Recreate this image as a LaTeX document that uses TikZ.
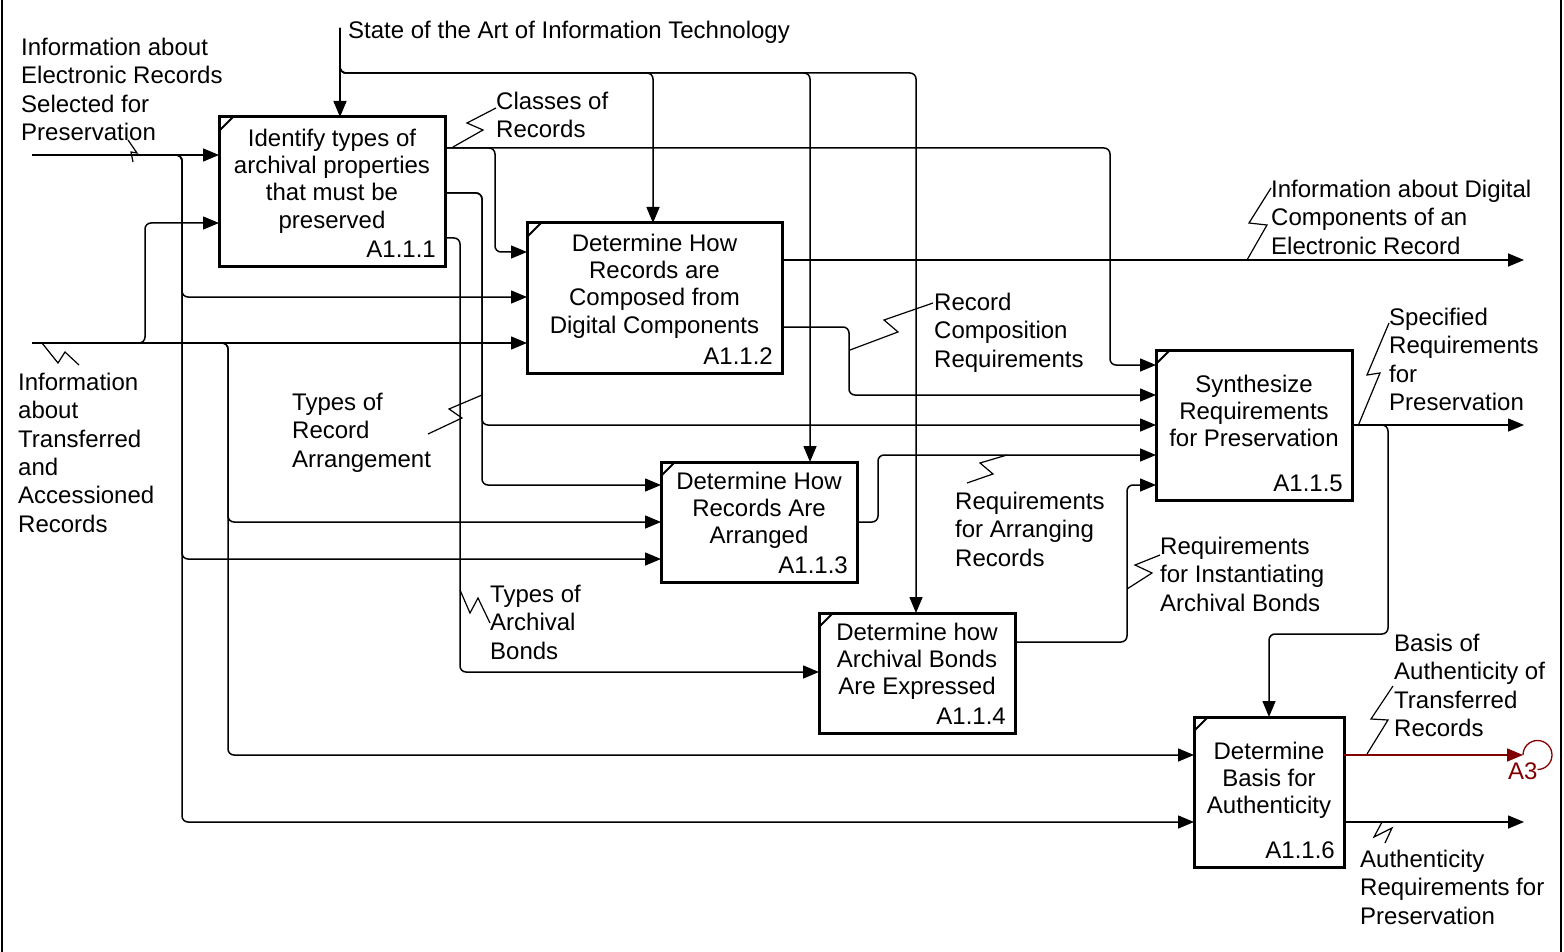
\documentclass[tikz,border=0pt]{standalone}
\usepackage{fontspec}
\setmainfont{Liberation Sans}
\usetikzlibrary{arrows.meta}
\definecolor{refred}{RGB}{128,0,0}
\begin{document}
\begin{tikzpicture}[x=1pt,y=-1pt,
  conn/.style={line width=1.5pt, rounded corners=6pt, -{Triangle[length=16pt,width=13pt]}},
  squig/.style={line width=1.2pt, line join=miter},
  box/.style={draw, line width=3pt, inner sep=0pt, outer sep=0pt},
  tick/.style={line width=2pt},
  title/.style={font=\fontsize{24}{27.2}\selectfont, align=center, inner sep=0pt, anchor=north},
  boxid/.style={font=\fontsize{24}{27.2}\selectfont, inner sep=0pt, anchor=base east},
  lbl/.style={font=\fontsize{24}{28.3}\selectfont, align=left, inner sep=0pt, anchor=north west},
]
\useasboundingbox (0,0) rectangle (1564,952);

% frame sides
\draw[line width=2pt] (2,0) -- (2,952);
\draw[line width=2pt] (1561,0) -- (1561,952);

% activity boxes
\node[box, minimum width=226pt, minimum height=150pt] (b1) at (332,192) {};
\node[box, minimum width=255pt, minimum height=150pt] (b2) at (654.5,298) {};
\node[box, minimum width=196pt, minimum height=120pt] (b3) at (759,522) {};
\node[box, minimum width=196pt, minimum height=120pt] (b4) at (917,673) {};
\node[box, minimum width=196pt, minimum height=150pt] (b5) at (1254,425) {};
\node[box, minimum width=150pt, minimum height=150pt] (b6) at (1269,792) {};

\foreach \b in {b1,b2,b3,b4,b5,b6}
  \draw[tick] ([yshift=-14pt]\b.north west) -- ([xshift=14pt]\b.north west);

\node[title] (t1) at ([yshift=-12pt]b1.north) {Identify types of\\archival properties\\that must be\\preserved};
\node[title] (t2) at ([yshift=-11pt]b2.north) {Determine How\\Records are\\Composed from\\Digital Components};
\node[title] (t3) at ([yshift=-10pt]b3.north) {Determine How\\Records Are\\Arranged};
\node[title] (t4) at ([yshift=-10pt]b4.north) {Determine how\\Archival Bonds\\Are Expressed};
\node[title] (t5) at ([yshift=-25pt]b5.north) {Synthesize\\Requirements\\for Preservation};
\node[title] (t6) at ([yshift=-25pt]b6.north) {Determine\\Basis for\\Authenticity};

\node[boxid] (n1) at ([xshift=-9pt,yshift=9pt]b1.south east) {A1.1.1};
\node[boxid] (n2) at ([xshift=-9pt,yshift=9pt]b2.south east) {A1.1.2};
\node[boxid] (n3) at ([xshift=-9pt,yshift=9pt]b3.south east) {A1.1.3};
\node[boxid] (n4) at ([xshift=-9pt,yshift=9pt]b4.south east) {A1.1.4};
\node[boxid] (n5) at ([xshift=-9pt,yshift=9pt]b5.south east) {A1.1.5};
\node[boxid] (n6) at ([xshift=-9pt,yshift=9pt]b6.south east) {A1.1.6};

% free ends
\coordinate (sota) at (340,28);
\coordinate (in1) at (32,155);
\coordinate (in2) at (32,343);
\coordinate (out1) at (1524,260);
\coordinate (out2) at (1524,425);
\coordinate (out3) at (1524,822);
\coordinate (a3) at (1523,755);

% control
\draw[conn] (sota) -- (b1.north -| sota);
\draw[conn] (sota) |- (653,73) -- (b2.north -| 653,0);
\draw[conn] (sota) |- (810,73) -- (b3.north -| 810,0);
\draw[conn] (sota) |- (916,73) -- (b4.north -| 916,0);

% inputs
\draw[conn] (in1) -- (b1.west |- in1);
\draw[conn] (in1) -| (182,297) -- (b2.west |- 0,297);
\draw[conn] (in1) -| (182,559) -- (b3.west |- 0,559);
\draw[conn] (in1) -| (182,822) -- (b6.west |- 0,822);
\draw[conn] (in2) -- (b2.west |- in2);
\draw[conn] (in2) -| (145,223) -- (b1.west |- 0,223);
\draw[conn] (in2) -| (228,522) -- (b3.west |- 0,522);
\draw[conn] (in2) -| (228,755) -- (b6.west |- 0,755);

% outputs of A1.1.1
\draw[conn] (b1.east |- 0,148) -| (1110,365) -- (b5.west |- 0,365);
\draw[conn] (b1.east |- 0,148) -| (495,252) -- (b2.west |- 0,252);
\draw[conn] (b1.east |- 0,193) -| (482,485) -- (b3.west |- 0,485);
\draw[conn] (b1.east |- 0,193) -| (482,425) -- (b5.west |- 0,425);
\draw[conn] (b1.east |- 0,238) -| (460,672) -- (b4.west |- 0,672);

% outputs of A1.1.2 .. A1.1.4
\draw[conn] (b2.east |- out1) -- (out1);
\draw[conn] (b2.east |- 0,327) -| (849,395) -- (b5.west |- 0,395);
\draw[conn] (b3.east |- 0,522) -| (878,455) -- (b5.west |- 0,455);
\draw[conn] (b4.east |- 0,642) -| (1127,485) -- (b5.west |- 0,485);

% outputs of A1.1.5
\draw[conn] (b5.east |- out2) -- (out2);
\draw[conn] (b5.east |- out2) -| (1388,634) -| (b6.north);

% outputs of A1.1.6
\draw[conn, refred] (b6.east |- a3) -- (a3);
\draw[refred, line width=1.3pt] (a3) arc[start angle=180, end angle=-90, radius=14.5pt];
\draw[conn] (b6.east |- out3) -- (out3);

% squiggles tying labels to arrows
\draw[squig] (128,140) -- (137,153) -- (131,152) -- (133,162);
\draw[squig] (42,343) -- (58,363) -- (65,352) -- (79,365);
\draw[squig] (453,147) -- (483,130) -- (467,123) -- (496,108);
\draw[squig] (482,395) -- (449,409) -- (462,418) -- (428,434);
\draw[squig] (460,590) -- (470,613) -- (478,598) -- (490,623);
\draw[squig] (1247,260) -- (1267,225) -- (1249,223) -- (1271,188);
\draw[squig] (850,350) -- (898,332) -- (884,320) -- (933,303);
\draw[squig] (1007,455) -- (980,463) -- (993,474) -- (967,483);
\draw[squig] (1127,589) -- (1152,573) -- (1135,565) -- (1160,555);
\draw[squig] (1358,426) -- (1380,373) -- (1367,375) -- (1389,323);
\draw[squig] (1367,754) -- (1388,720) -- (1371,719) -- (1393,686);
\draw[squig] (1382,822) -- (1374,837) -- (1392,828) -- (1385,843);

% labels
\node[lbl] (l1) at (21,38) {Information about\\Electronic Records\\Selected for\\Preservation};
\node[lbl] (l2) at (348,20.5) {State of the Art of Information Technology};
\node[lbl] (l3) at (496,92) {Classes of\\Records};
\node[lbl] (l4) at (1271,180) {Information about Digital\\Components of an\\Electronic Record};
\node[lbl] (l5) at (934,293) {Record\\Composition\\Requirements};
\node[lbl] (l6) at (1389,308) {Specified\\Requirements\\for\\Preservation};
\node[lbl] (l7) at (18,373) {Information\\about\\Transferred\\and\\Accessioned\\Records};
\node[lbl] (l8) at (292,393) {Types of\\Record\\Arrangement};
\node[lbl] (l9) at (490,585) {Types of\\Archival\\Bonds};
\node[lbl] (l10) at (955,492) {Requirements\\for Arranging\\Records};
\node[lbl] (l11) at (1160,537) {Requirements\\for Instantiating\\Archival Bonds};
\node[lbl] (l12) at (1394,634) {Basis of\\Authenticity of\\Transferred\\Records};
\node[lbl] (l13) at (1360,850) {Authenticity\\Requirements for\\Preservation};
\node[lbl, text=refred] (l14) at (1508,763) {A3};
\end{tikzpicture}
\end{document}
